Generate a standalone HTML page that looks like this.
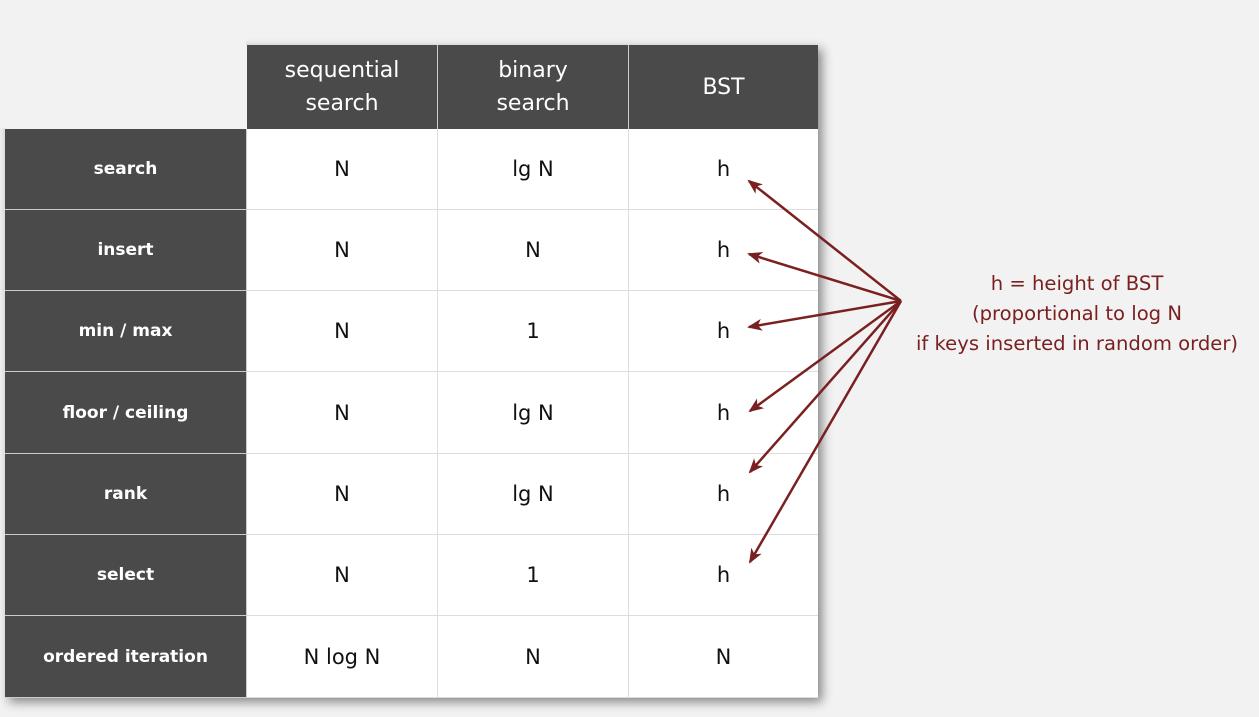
<!DOCTYPE html>
<html><head><style>
body{margin:0;width:1259px;height:717px;background:#f2f2f2;position:relative;overflow:hidden;font-family:"DejaVu Sans","Liberation Sans",sans-serif}
.c{position:absolute;display:flex;align-items:center;justify-content:center;text-align:center;box-sizing:border-box}
.h{background:#4a4a4a;color:#fff;font-size:22px;line-height:33px;border-right:1px solid #ccc}
.l{background:#4a4a4a;color:#fff;font-size:17px;font-weight:bold;border-bottom:1px solid #ccc}
.v{background:#fff;color:#111;font-size:21px;border-right:1px solid #ddd;border-bottom:1px solid #ddd}
.note{position:absolute;left:895px;top:269px;width:364px;text-align:center;color:#7a2020;font-size:19.6px;line-height:30px}
</style></head><body>
<div style="position:absolute;left:5px;top:45px;width:813px;height:653px;box-shadow:4px 4px 10px rgba(0,0,0,0.45);"></div>
<div style="position:absolute;left:0;top:0;width:246px;height:128px;background:#f2f2f2"></div>
<div class="c h" style="left:247px;top:45px;width:191px;height:84px">sequential<br>search</div>
<div class="c h" style="left:438px;top:45px;width:191px;height:84px">binary<br>search</div>
<div class="c h" style="left:629px;top:45px;width:189px;height:84px;border-right:none">BST</div>
<div id="rows"></div>
<script>
var rows=[["search","N","lg N","h"],["insert","N","N","h"],["min / max","N","1","h"],["floor / ceiling","N","lg N","h"],["rank","N","lg N","h"],["select","N","1","h"],["ordered iteration","N log N","N","N"]];
var ys=[129,210,291,372,454,535,616,698],html="";
rows.forEach(function(r,i){var t=ys[i],hh=ys[i+1]-t;
html+='<div class="c l" style="left:5px;top:'+t+'px;width:242px;height:'+hh+'px;border-right:1px solid #ccc">'+r[0]+'</div>';
var xs=[247,438,629,818];
for(var j=0;j<3;j++)html+='<div class="c v" style="left:'+xs[j]+'px;top:'+t+'px;width:'+(xs[j+1]-xs[j])+'px;height:'+hh+'px'+(j==2?';border-right:none':'')+'">'+r[j+1]+'</div>';});
document.getElementById('rows').innerHTML=html;
</script>
<svg width="1259" height="717" style="position:absolute;left:0;top:0">
<defs><marker id="a" markerWidth="15" markerHeight="12" refX="13" refY="6" orient="auto" markerUnits="userSpaceOnUse"><path d="M0,0 L15,6 L0,12 L4,6z" fill="#7a2020"/></marker></defs>
<g stroke="#7a2020" stroke-width="2.5" fill="none" marker-end="url(#a)">
<line x1="901" y1="301" x2="749" y2="181"/>
<line x1="901" y1="301" x2="749" y2="254"/>
<line x1="901" y1="301" x2="749" y2="327"/>
<line x1="901" y1="301" x2="750" y2="411"/>
<line x1="901" y1="301" x2="750" y2="472"/>
<line x1="901" y1="301" x2="750" y2="562"/>
</g></svg>
<div class="note">h = height of BST<br>(proportional to log N<br>if keys inserted in random order)</div>
</body></html>
